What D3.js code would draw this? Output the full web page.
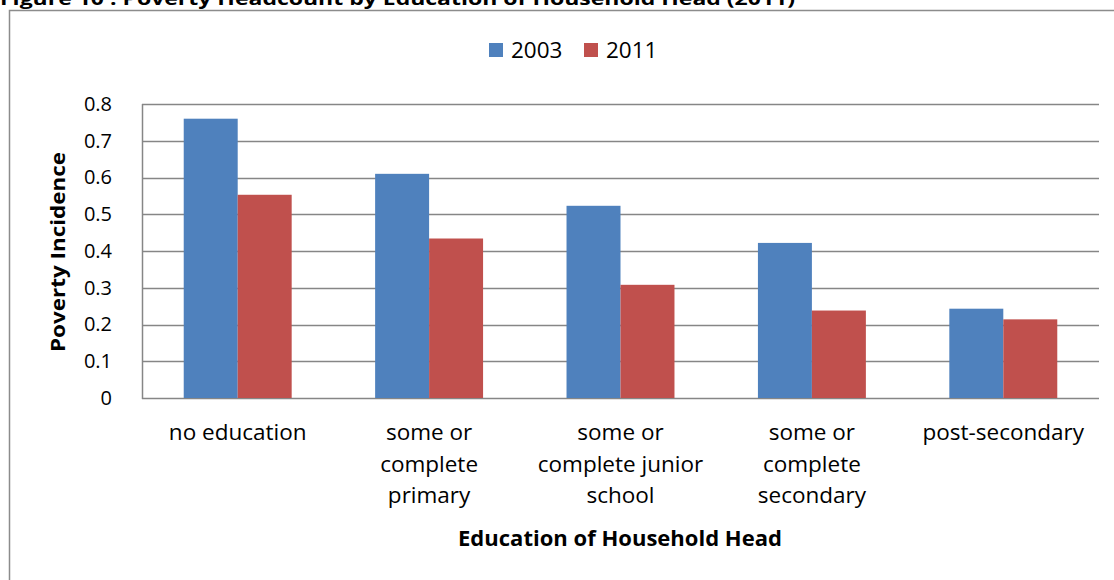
<!DOCTYPE html>
<html>
<head>
<meta charset="utf-8">
<script src="https://cdn.jsdelivr.net/npm/d3@7"></script>
<style>
  html, body { margin: 0; padding: 0; background: #fff; }
  svg { display: block; font-family: "Open Sans", sans-serif; }
</style>
</head>
<body>
<svg id="chart" width="1114" height="580"></svg>
<script>
// Poverty headcount by education of household head
const categories = [
  "no education",
  "some or\ncomplete\nprimary",
  "some or\ncomplete junior\nschool",
  "some or\ncomplete\nsecondary",
  "post-secondary"
];
const seriesNames = ["2003", "2011"];
const values2003 = [0.76, 0.61, 0.523, 0.422, 0.243];
const values2011 = [0.553, 0.434, 0.308, 0.238, 0.214];
const yTicks = [0, 0.1, 0.2, 0.3, 0.4, 0.5, 0.6, 0.7, 0.8];
const colors = ["#4F81BD", "#C0504D"];

const titleText = "Figure 10 : Poverty Headcount by Education of Household Head (2011)";
const yTitle = "Poverty Incidence";
const xTitle = "Education of Household Head";

const svg = d3.select("#chart");
const plot = { left: 142, right: 1099, top: 104, bottom: 398 };

// Figure caption, partly above the frame
svg.append("text")
  .attr("x", 0).attr("y", 5)
  .attr("font-weight", "bold").attr("font-size", 17)
  .attr("textLength", 795).attr("lengthAdjust", "spacingAndGlyphs")
  .text(titleText);

// Chart frame
svg.append("rect")
  .attr("x", 9.5).attr("y", 10.5)
  .attr("width", 1300).attr("height", 800)
  .attr("fill", "none").attr("stroke", "#8c8c8c").attr("stroke-width", 1.5);

const x0 = d3.scaleBand().domain(categories).range([plot.left, plot.right]);
const groupFrac = 0.564;
const x1 = d3.scaleBand().domain(seriesNames)
  .range([x0.bandwidth() * (1 - groupFrac) / 2, x0.bandwidth() * (1 + groupFrac) / 2]);
const y = d3.scaleLinear().domain([0, 0.8]).range([plot.bottom, plot.top]);

// Gridlines
svg.append("g")
  .selectAll("line").data(yTicks).join("line")
  .attr("x1", plot.left).attr("x2", plot.right)
  .attr("y1", d => Math.round(y(d)) + 0.5).attr("y2", d => Math.round(y(d)) + 0.5)
  .attr("stroke", "#868686").attr("stroke-width", 1.5);

// Vertical axis line
svg.append("line")
  .attr("x1", plot.left + 0.5).attr("x2", plot.left + 0.5)
  .attr("y1", plot.top).attr("y2", plot.bottom + 1)
  .attr("stroke", "#868686").attr("stroke-width", 1.5);

// Y axis tick labels
const yAxis = d3.axisLeft(y).tickValues(yTicks).tickSize(0).tickPadding(30)
  .tickFormat(d => d === 0 ? "0" : d3.format(".1f")(d));
const yg = svg.append("g").attr("transform", `translate(${plot.left},0)`).call(yAxis);
yg.select(".domain").remove();
yg.selectAll("text").attr("font-size", 20).attr("font-family", "'Open Sans', sans-serif").attr("fill", "#000");

// Bars
const seriesData = [values2003, values2011];
const groups = svg.append("g").selectAll("g").data(categories).join("g")
  .attr("transform", d => `translate(${x0(d)},0)`);
groups.selectAll("rect")
  .data((d, i) => seriesNames.map((s, j) => ({ s, v: seriesData[j][i], c: colors[j] })))
  .join("rect")
  .attr("x", d => x1(d.s))
  .attr("width", x1.bandwidth())
  .attr("y", d => y(d.v))
  .attr("height", d => y(0) - y(d.v))
  .attr("fill", d => d.c);

// Category labels
const xAxis = d3.axisBottom(x0).tickSize(0).tickFormat("");
svg.append("g").attr("transform", `translate(0,${plot.bottom})`).call(xAxis)
  .select(".domain").remove();
const labels = svg.append("g").selectAll("text").data(categories).join("text")
  .attr("x", d => x0(d) + x0.bandwidth() / 2)
  .attr("y", 440)
  .attr("text-anchor", "middle")
  .attr("font-size", 22.5);
labels.selectAll("tspan").data(d => d.split("\n")).join("tspan")
  .attr("x", function () { return d3.select(this.parentNode).attr("x"); })
  .attr("dy", (d, i) => i === 0 ? 0 : 31.5)
  .text(d => d);

// Axis titles
svg.append("text")
  .attr("x", 620).attr("y", 546)
  .attr("text-anchor", "middle").attr("font-weight", "bold").attr("font-size", 20.5)
  .attr("textLength", 324).attr("lengthAdjust", "spacingAndGlyphs")
  .text(xTitle);
svg.append("text")
  .attr("transform", "translate(65,252) rotate(-90)")
  .attr("text-anchor", "middle").attr("font-weight", "bold").attr("font-size", 20)
  .attr("textLength", 200).attr("lengthAdjust", "spacingAndGlyphs")
  .text(yTitle);

// Legend
const legend = svg.append("g").selectAll("g").data(seriesNames).join("g")
  .attr("transform", (d, i) => `translate(${489 + i * 95},43)`);
legend.append("rect").attr("width", 14).attr("height", 14).attr("fill", (d, i) => colors[i]);
legend.append("text").attr("x", 22).attr("y", 15).attr("font-size", 22.5).text(d => d);
</script>
</body>
</html>
